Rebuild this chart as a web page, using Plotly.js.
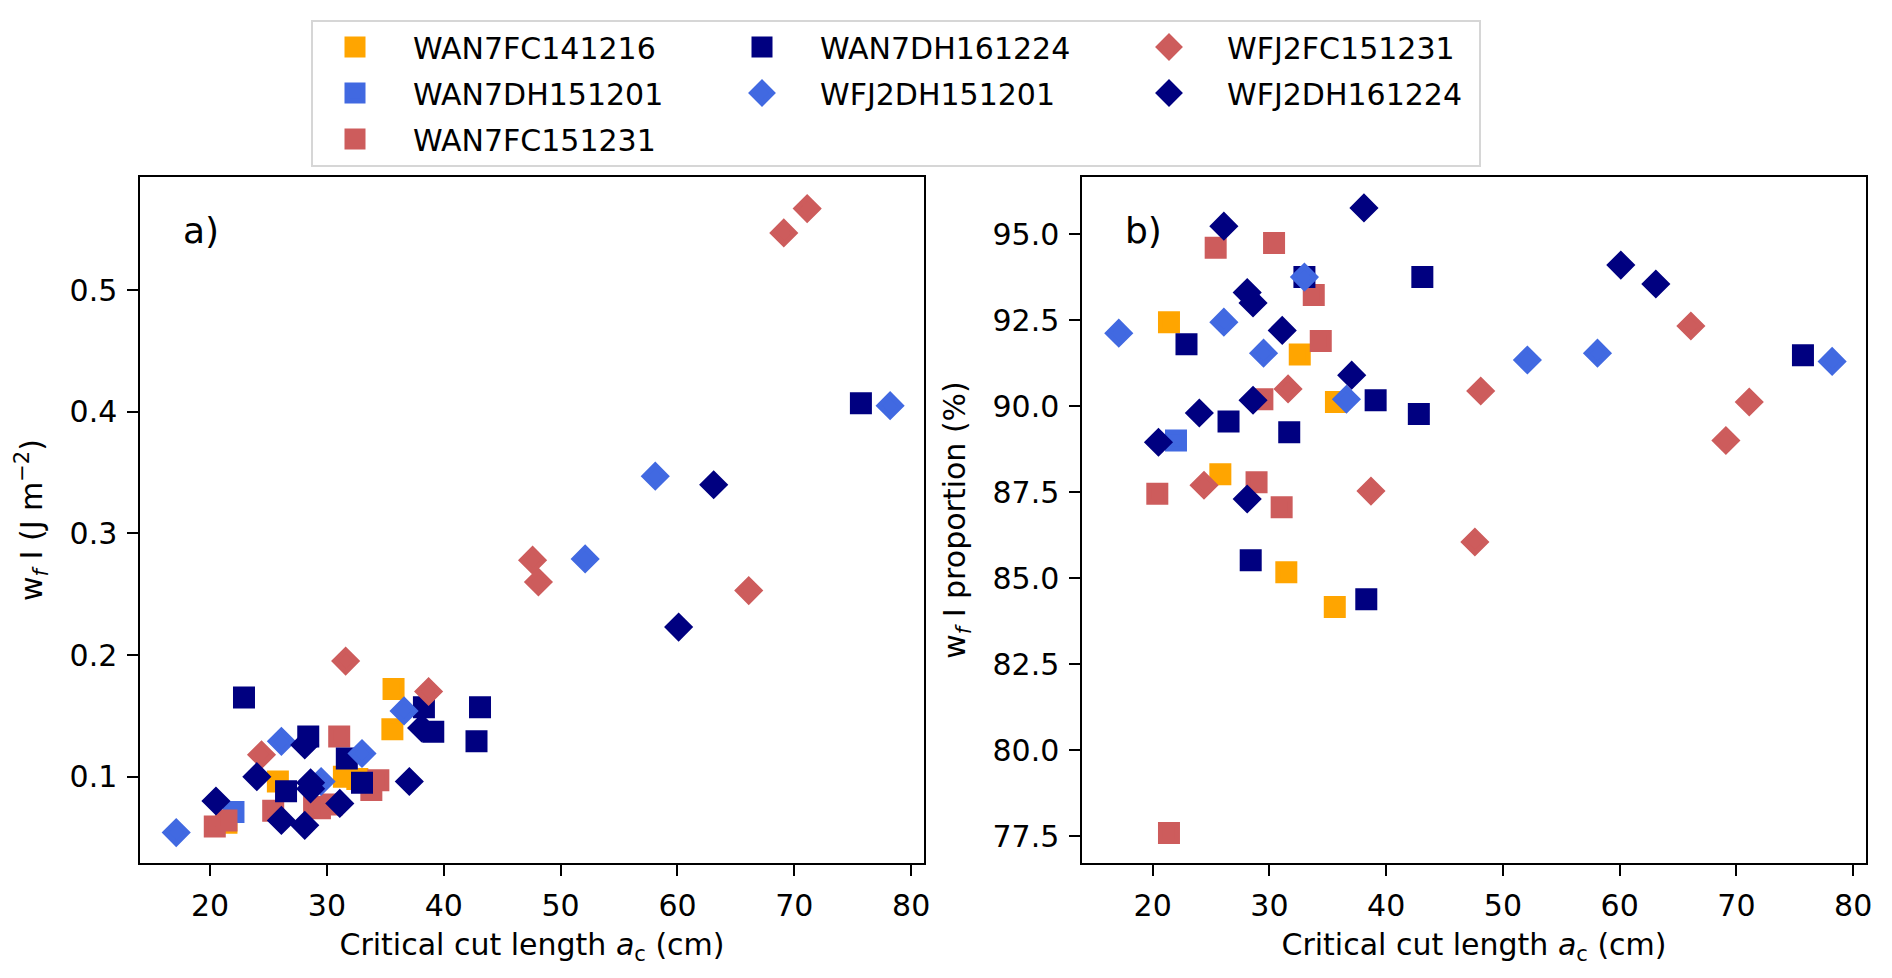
<!DOCTYPE html>
<html>
<head>
<meta charset="utf-8">
<script src="https://cdn.plot.ly/plotly-3.0.1.min.js"></script>
<style>
  html, body { margin: 0; padding: 0; background: #fff; }
  #chart { width: 1892px; height: 978px; }
</style>
</head>
<body>
<div id="chart"></div>
<script>
// series names, in plotting order
const seriesNames = ["WAN7FC141216", "WAN7DH151201", "WAN7FC151231", "WAN7DH161224",
                     "WFJ2DH151201", "WFJ2FC151231", "WFJ2DH161224"];

// critical cut length a_c (cm)
const acWAN7FC141216 = [21.4, 25.8, 31.45, 32.6, 35.6, 35.7];
const acWAN7DH151201 = [22.0];
const acWAN7FC151231 = [20.4, 21.4, 25.4, 28.9, 29.4, 30.4, 31.05, 33.8, 34.4];
const acWAN7DH161224 = [22.9, 26.5, 28.4, 31.7, 33.0, 38.3, 39.1, 42.8, 43.1, 75.7];
const acWFJ2DH151201 = [17.1, 26.1, 29.5, 33.0, 36.6, 52.1, 58.1, 78.2];
const acWFJ2FC151231 = [24.4, 31.6, 38.7, 47.6, 48.1, 66.1, 69.1, 71.1];
const acWFJ2DH161224 = [20.5, 24.0, 26.1, 28.1, 28.1, 28.6, 28.6, 31.1, 37.05, 38.1, 60.1, 63.1];

// w_f I (J m^-2)
const wfWAN7FC141216 = [0.062, 0.096, 0.100, 0.098, 0.139, 0.172];
const wfWAN7DH151201 = [0.071];
const wfWAN7FC151231 = [0.059, 0.064, 0.072, 0.075, 0.074, 0.077, 0.133, 0.089, 0.097];
const wfWAN7DH161224 = [0.165, 0.088, 0.133, 0.115, 0.095, 0.157, 0.137, 0.129, 0.157, 0.407];
const wfWFJ2DH151201 = [0.054, 0.129, 0.096, 0.119, 0.154, 0.279, 0.347, 0.405];
const wfWFJ2FC151231 = [0.118, 0.195, 0.170, 0.278, 0.260, 0.253, 0.547, 0.567];
const wfWFJ2DH161224 = [0.080, 0.100, 0.064, 0.060, 0.126, 0.095, 0.090, 0.078, 0.096, 0.140, 0.223, 0.340];

// w_f I proportion (%)
const pcWAN7FC141216 = [92.44, 88.02, 85.17, 91.5, 84.16, 90.12];
const pcWAN7DH151201 = [89.0];
const pcWAN7FC151231 = [87.45, 77.59, 94.6, 87.79, 90.2, 94.74, 87.06, 93.23, 91.89];
const pcWAN7DH161224 = [91.8, 89.55, 85.52, 89.24, 93.75, 84.39, 90.17, 89.77, 93.75, 91.48];
const pcWFJ2DH151201 = [92.12, 92.44, 91.54, 93.75, 90.2, 91.34, 91.54, 91.3];
const pcWFJ2FC151231 = [87.7, 90.5, 87.53, 86.05, 90.44, 92.33, 89.0, 90.12];
const pcWFJ2DH161224 = [88.95, 89.8, 95.23, 93.3, 87.3, 93.0, 90.17, 92.2, 90.9, 95.76, 94.1, 93.55];

const acValues = [acWAN7FC141216, acWAN7DH151201, acWAN7FC151231, acWAN7DH161224,
                  acWFJ2DH151201, acWFJ2FC151231, acWFJ2DH161224];
const wfValues = [wfWAN7FC141216, wfWAN7DH151201, wfWAN7FC151231, wfWAN7DH161224,
                  wfWFJ2DH151201, wfWFJ2FC151231, wfWFJ2DH161224];
const pcValues = [pcWAN7FC141216, pcWAN7DH151201, pcWAN7FC151231, pcWAN7DH161224,
                  pcWFJ2DH151201, pcWFJ2FC151231, pcWFJ2DH161224];

const colors = ["orange", "royalblue", "indianred", "navy", "royalblue", "indianred", "navy"];
const symbols = ["square", "square", "square", "square", "diamond", "diamond", "diamond"];
// which legend column each series sits in (matplotlib ncol=3 fills column by column)
const legendCols = ["legend", "legend", "legend", "legend2", "legend2", "legend3", "legend3"];

const FONT = "DejaVu Sans, Liberation Sans, sans-serif";
const W = 1892, H = 978;
const M = { l: 140, r: 26, t: 177, b: 115 };
const plotW = W - M.l - M.r, plotH = H - M.t - M.b;
const px = v => (v - M.l) / plotW;     // page x -> paper x
const py = v => (H - M.b - v) / plotH; // page y -> paper y

// size 17 + a 5px outline of the same colour: 22px squares, and the legend
// symbols (capped at 16 by plotly) still come out close to that
function markerFor(i) {
  return { color: colors[i], symbol: symbols[i], size: 17,
           line: { width: 5, color: colors[i] } };
}

let traces = [];
for (let i = 0; i < seriesNames.length; i++) {
  traces.push({
    x: acValues[i], y: wfValues[i], xaxis: "x", yaxis: "y",
    type: "scatter", mode: "markers", name: seriesNames[i],
    legend: legendCols[i], legendgroup: seriesNames[i],
    marker: markerFor(i), hoverinfo: "x+y"
  });
}
for (let i = 0; i < seriesNames.length; i++) {
  traces.push({
    x: acValues[i], y: pcValues[i], xaxis: "x2", yaxis: "y2",
    type: "scatter", mode: "markers", name: seriesNames[i],
    legendgroup: seriesNames[i], showlegend: false,
    marker: markerFor(i), hoverinfo: "x+y"
  });
}

const axisBase = {
  showline: true, linecolor: "black", linewidth: 2.4, mirror: true,
  ticks: "outside", ticklen: 10.5, tickwidth: 2.4, tickcolor: "black",
  showgrid: false, zeroline: false, automargin: false,
  tickfont: { family: FONT, size: 30, color: "black" },
  ticklabelstandoff: 4
};

const xTitle = "Critical cut length <i>a</i><sub>c</sub> (cm)";

const legendBase = {
  orientation: "v", xanchor: "left", yanchor: "top",
  bgcolor: "rgba(0,0,0,0)", borderwidth: 0,
  font: { family: FONT, size: 30, color: "black" },
  itemwidth: 106, tracegroupgap: 4,
  itemclick: false, itemdoubleclick: false
};

const layout = {
  width: W, height: H,
  margin: M,
  paper_bgcolor: "white", plot_bgcolor: "white",
  font: { family: FONT, size: 30, color: "black" },
  showlegend: true,
  xaxis: Object.assign({}, axisBase, {
    domain: [0, px(924)], range: [14.0, 81.1], dtick: 10, tick0: 0,
    title: { text: xTitle, font: { family: FONT, size: 30 }, standoff: 12 }
  }),
  yaxis: Object.assign({}, axisBase, {
    anchor: "x", range: [0.029, 0.593], dtick: 0.1, tick0: 0, tickformat: ".1f",
    title: { text: "w<sub><i>f</i></sub> I (J m<sup>\u22122</sup>)", font: { family: FONT, size: 30 }, standoff: 18 }
  }),
  xaxis2: Object.assign({}, axisBase, {
    anchor: "y2", domain: [px(1082), 1], range: [13.95, 81.1], dtick: 10, tick0: 0,
    title: { text: xTitle, font: { family: FONT, size: 30 }, standoff: 12 }
  }),
  yaxis2: Object.assign({}, axisBase, {
    anchor: "x2", range: [76.72, 96.66], dtick: 2.5, tick0: 0, tickformat: ".1f",
    title: { text: "w<sub><i>f</i></sub> I proportion (%)", font: { family: FONT, size: 30 }, standoff: 18 }
  }),
  legend: Object.assign({}, legendBase, { x: px(297), y: py(21) }),
  legend2: Object.assign({}, legendBase, { x: px(704), y: py(21) }),
  legend3: Object.assign({}, legendBase, { x: px(1111), y: py(21) }),
  shapes: [{
    type: "rect", xref: "paper", yref: "paper",
    x0: px(312), x1: px(1480), y0: py(166), y1: py(21),
    line: { color: "#d6d6d6", width: 2 }, fillcolor: "rgba(255,255,255,0.8)", layer: "below"
  }],
  annotations: [
    { text: "a)", xref: "x domain", yref: "y domain", x: 0.052, y: 0.9227,
      xanchor: "left", yanchor: "middle", showarrow: false,
      font: { family: FONT, size: 36, color: "black" } },
    { text: "b)", xref: "x2 domain", yref: "y2 domain", x: 0.052, y: 0.9227,
      xanchor: "left", yanchor: "middle", showarrow: false,
      font: { family: FONT, size: 36, color: "black" } }
  ]
};

Plotly.newPlot("chart", traces, layout, { displayModeBar: false, responsive: false });
</script>
</body>
</html>
